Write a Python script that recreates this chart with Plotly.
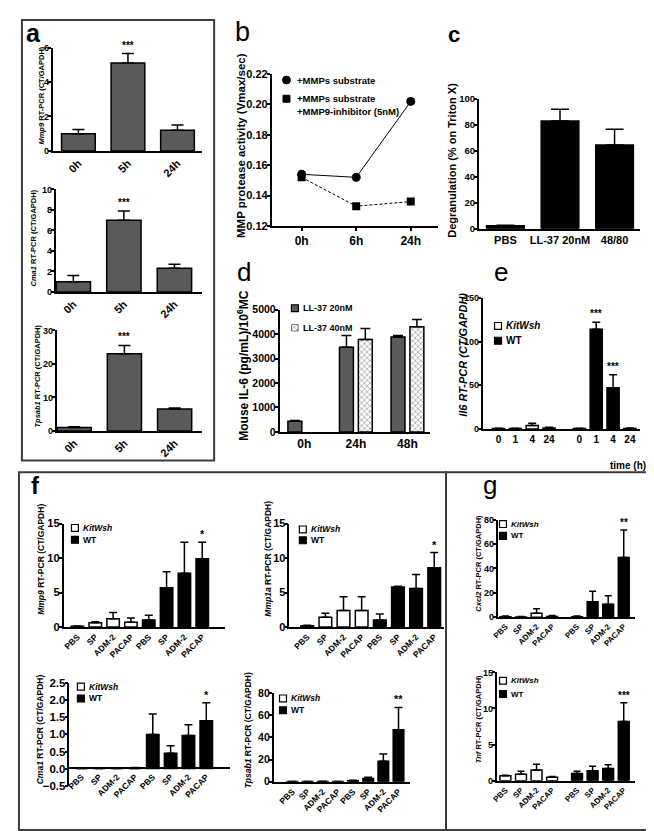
import plotly.graph_objects as go

W, H = 654, 831
FONT = "Liberation Sans"

# ================= data =================
a_times = ["0h", "5h", "24h"]
a_mmp9 = [1.0, 5.1, 1.2]
a_mmp9_err = [0.25, 0.55, 0.3]
a_mmp9_sig = ["", "***", ""]
a_cma1 = [1.0, 7.0, 2.3]
a_cma1_err = [0.6, 0.9, 0.4]
a_cma1_sig = ["", "***", ""]
a_tpsab1 = [1.0, 23.0, 6.5]
a_tpsab1_err = [0.2, 2.5, 0.3]
a_tpsab1_sig = ["", "***", ""]

b_times = ["0h", "6h", "24h"]
b_substrate = [0.154, 0.152, 0.202]
b_inhibitor = [0.152, 0.133, 0.136]

c_groups = ["PBS", "LL-37 20nM", "48/80"]
c_degran = [2.3, 83.0, 64.5]
c_degran_err = [0.5, 9.0, 12.0]

d_times = ["0h", "24h", "48h"]
d_ll37_20 = [430, 3460, 3880]
d_ll37_20_err = [40, 480, 60]
d_ll37_40 = [None, 3780, 4300]
d_ll37_40_err = [0, 450, 300]

e_times = ["0", "1", "4", "24"]
e_kitwsh = [0.5, 0.5, 4.0, 1.0]
e_kitwsh_err = [0.4, 0.4, 2.5, 1.0]
e_wt = [0.5, 114.0, 47.0, 0.6]
e_wt_err = [0.4, 8.0, 15.0, 0.4]
e_wt_sig = ["", "***", "***", ""]

stim = ["PBS", "SP", "ADM-2", "PACAP"]

f_mmp9_kit = [0.1, 0.6, 1.2, 0.7]
f_mmp9_kit_err = [0.05, 0.15, 0.9, 0.6]
f_mmp9_wt = [1.0, 5.7, 7.8, 9.9]
f_mmp9_wt_err = [0.7, 2.3, 4.5, 2.4]
f_mmp9_sig = ["", "", "", "*"]

f_mmp1a_kit = [0.2, 1.4, 2.4, 2.4]
f_mmp1a_kit_err = [0.05, 0.6, 2.0, 2.0]
f_mmp1a_wt = [1.0, 5.8, 5.6, 8.6]
f_mmp1a_wt_err = [0.9, 0.1, 2.0, 2.2]
f_mmp1a_sig = ["", "", "", "*"]

f_cma1_kit = [0.0, 0.0, 0.0, 0.0]
f_cma1_kit_err = [0.0, 0.0, 0.0, 0.03]
f_cma1_wt = [1.0, 0.45, 0.97, 1.4]
f_cma1_wt_err = [0.6, 0.22, 0.31, 0.53]
f_cma1_sig = ["", "", "", "*"]

f_tpsab1_kit = [0.2, 0.2, 0.3, 0.2]
f_tpsab1_kit_err = [0.1, 0.1, 0.2, 0.1]
f_tpsab1_wt = [0.8, 3.0, 18.5, 47.0]
f_tpsab1_wt_err = [0.5, 1.0, 6.5, 20.0]
f_tpsab1_sig = ["", "", "", "**"]

g_cxcl2_kit = [0.3, 0.2, 3.3, 0.5]
g_cxcl2_kit_err = [0.7, 0.3, 3.5, 0.8]
g_cxcl2_wt = [0.3, 12.7, 10.5, 49.0]
g_cxcl2_wt_err = [0.7, 8.5, 7.0, 22.5]
g_cxcl2_sig = ["", "", "", "**"]

g_tnf_kit = [0.7, 0.9, 1.5, 0.5]
g_tnf_kit_err = [0.05, 0.4, 0.8, 0.1]
g_tnf_wt = [1.0, 1.4, 1.7, 8.2]
g_tnf_wt_err = [0.3, 0.6, 0.5, 2.6]
g_tnf_sig = ["", "", "", "***"]

# ================= helpers =================
fig = go.Figure()
lay = dict(width=W, height=H, margin=dict(l=0, r=0, t=0, b=0), paper_bgcolor="white",
           plot_bgcolor="rgba(0,0,0,0)", barmode="overlay", showlegend=False,
           font=dict(family=FONT, color="black"))
annotations = []
shapes = []
n_ax = [0]


def fx(p):
    return p / W


def fy(p):
    return 1 - p / H


AX = dict(showline=True, linecolor="black", linewidth=1.5, ticklen=3,
          tickwidth=1.5, tickcolor="black", showgrid=False, zeroline=False, fixedrange=True)


def axes(xpx, ypx, xr, yr, xvals, xtext, yvals, xangle=0, xsize=10, ysize=10,
         yfmt=None, xline_y=None, xticks="", ystand=-3, visible=True):
    n_ax[0] += 1
    s = "" if n_ax[0] == 1 else str(n_ax[0])
    xa = dict(AX, domain=[fx(xpx[0]), fx(xpx[1])], range=xr, tickvals=xvals, ticktext=xtext,
              tickangle=xangle, ticks=xticks, visible=visible,
              tickfont=dict(family=FONT, size=xsize, weight="bold", color="black"),
              anchor="y" + s)
    if xline_y is not None:
        xa["anchor"] = "free"
        xa["position"] = fy(xline_y)
    ya = dict(AX, domain=[fy(ypx[1]), fy(ypx[0])], range=yr, tickvals=yvals, ticks="outside",
              ticklabelstandoff=ystand, visible=visible,
              tickfont=dict(family=FONT, size=ysize, weight="bold", color="black"),
              anchor="x" + s)
    if yfmt:
        ya["tickformat"] = yfmt
    lay["xaxis" + s] = xa
    lay["yaxis" + s] = ya
    return "x" + s, "y" + s


def bars(ax, x, y, err, fill, bw, cap, pattern=None, offset=None):
    marker = dict(color=fill, line=dict(color="black", width=1.5))
    if pattern:
        marker["pattern"] = pattern
    fig.add_trace(go.Bar(
        x=x, y=y, width=bw, offset=offset, marker=marker,
        error_y=dict(type="data", array=err, arrayminus=[0] * len(err), symmetric=False,
                     color="black", thickness=1.5, width=cap),
        xaxis=ax[0], yaxis=ax[1], hoverinfo="skip"))


def stars(ax, x, y, err, sig, size=10, shift=0):
    for xi, yi, ei, si in zip(x, y, err, sig):
        if si:
            annotations.append(dict(x=xi, y=(yi or 0) + ei, xref=ax[0], yref=ax[1],
                                    text="<b>" + si + "</b>", showarrow=False,
                                    yanchor="bottom", yshift=shift,
                                    font=dict(family=FONT, size=size, color="black")))


def text(t, xpx, ypx, size, angle=0, xanchor="center", yanchor="middle"):
    annotations.append(dict(x=fx(xpx), y=fy(ypx), xref="paper", yref="paper", text=t,
                            textangle=angle, showarrow=False, xanchor=xanchor, yanchor=yanchor,
                            font=dict(family=FONT, size=size, color="black")))


def legend_item(xpx, ypx, fill, label, size=8.5, sq=7):
    shapes.append(dict(type="rect", xref="paper", yref="paper", x0=fx(xpx), x1=fx(xpx + sq),
                       y0=fy(ypx + sq / 2), y1=fy(ypx - sq / 2), fillcolor=fill,
                       line=dict(color="black", width=1.2)))
    text(label, xpx + sq + 3, ypx, size, xanchor="left")


def kit_wt_legend(xpx, ypx, dy, size=8.5, sq=7):
    legend_item(xpx, ypx, "white", "<b><i>KitWsh</i></b>", size, sq)
    legend_item(xpx, ypx + dy, "black", "<b>WT</b>", size, sq)


def box(x0, y0, x1, y1):
    shapes.append(dict(type="rect", xref="paper", yref="paper", x0=fx(x0), x1=fx(x1),
                       y0=fy(y1), y1=fy(y0), line=dict(color="#3c3c3c", width=2)))


GRAY = "#5a5a5a"
CHECK = dict(shape="x", fgcolor="#444444", bgcolor="white", size=4, solidity=0.35)

# ================= panel a =================
pos = list(range(len(a_times)))
ax = axes([39, 190], [34, 139], [-0.52, 2.5], [0, 6], pos, a_times, [0, 2, 4, 6],
          xangle=-45, xsize=11, ysize=9)
bars(ax, pos, a_mmp9, a_mmp9_err, GRAY, 0.68, 6)
stars(ax, pos, a_mmp9, a_mmp9_err, a_mmp9_sig, 10, 1)
text("<b><i>Mmp9</i> RT-PCR (CT/GAPDH)</b>", 28, 83, 7.5, angle=-90)

ax = axes([42, 190], [178, 282], [-0.35, 2.55], [0, 10], pos, a_times, [0, 2, 4, 6, 8, 10],
          xangle=-45, xsize=11, ysize=9)
bars(ax, pos, a_cma1, a_cma1_err, GRAY, 0.68, 6)
stars(ax, pos, a_cma1, a_cma1_err, a_cma1_sig, 10, 1)
text("<b><i>Cma1</i> RT-PCR (CT/GAPDH)</b>", 20, 227, 7.5, angle=-90)

ax = axes([43, 190], [321, 423], [-0.35, 2.55], [0, 30], pos, a_times, [0, 10, 20, 30],
          xangle=-45, xsize=11, ysize=9)
bars(ax, pos, a_tpsab1, a_tpsab1_err, GRAY, 0.68, 6)
stars(ax, pos, a_tpsab1, a_tpsab1_err, a_tpsab1_sig, 10, 1)
text("<b><i>Tpsab1</i> RT-PCR (CT/GAPDH)</b>", 24, 367, 7.5, angle=-90)

box(8, 6, 202, 453)
text("<b>a</b>", 20, 19, 25)

# ================= panel b =================
bpos = list(range(len(b_times)))
ax = axes([260, 428], [61, 215], [-0.55, 2.5], [0.12, 0.22], bpos, b_times,
          [0.12, 0.14, 0.16, 0.18, 0.20, 0.22], xsize=12, ysize=11, yfmt=".2f",
          xticks="outside")
fig.add_trace(go.Scatter(x=bpos, y=b_substrate, mode="lines+markers",
                         line=dict(color="black", width=1),
                         marker=dict(symbol="circle", size=9, color="black"),
                         xaxis=ax[0], yaxis=ax[1], hoverinfo="skip"))
fig.add_trace(go.Scatter(x=bpos, y=b_inhibitor, mode="lines+markers",
                         line=dict(color="black", width=1, dash="3px,2px"),
                         marker=dict(symbol="square", size=8, color="black"),
                         xaxis=ax[0], yaxis=ax[1], hoverinfo="skip"))
shapes.append(dict(type="circle", xref="paper", yref="paper", x0=fx(271), x1=fx(279),
                   y0=fy(71), y1=fy(63), fillcolor="black", line=dict(color="black", width=1)))
shapes.append(dict(type="rect", xref="paper", yref="paper", x0=fx(271.5), x1=fx(278.5),
                   y0=fy(89.5), y1=fy(82.5), fillcolor="black", line=dict(color="black", width=1)))
text("<b>+MMPs substrate</b>", 284, 67, 9.5, xanchor="left")
text("<b>+MMPs substrate</b>", 284, 86, 9.5, xanchor="left")
text("<b>+MMP9-inhibitor (5nM)</b>", 284, 99, 9.5, xanchor="left")
text("<b>MMP protease activity (Vmax/sec)</b>", 229, 133, 11.5, angle=-90)
text("b", 231, 18, 27)

# ================= panel c =================
cpos = list(range(len(c_groups)))
ax = axes([469, 632], [86, 218], [-0.49, 2.47], [0, 100], cpos, c_groups,
          [0, 20, 40, 60, 80, 100], xsize=11, ysize=9.5)
bars(ax, cpos, c_degran, c_degran_err, "black", 0.69, 9)
text("<b>Degranulation (% on Triton X)</b>", 442, 148, 11, angle=-90)
text("<b>c</b>", 444, 21, 22)

# ================= panel d =================
dpos = list(range(len(d_times)))
ax = axes([268, 420], [300, 424], [-0.48, 2.44], [0, 5000], dpos, d_times,
          [0, 1000, 2000, 3000, 4000, 5000], xsize=12, ysize=10.5)
bars(ax, dpos, d_ll37_20, d_ll37_20_err, GRAY, 0.27, 5, offset=-0.318)
bars(ax, dpos, d_ll37_40, d_ll37_40_err, "white", 0.27, 5, offset=0.048, pattern=CHECK)
legend_item(280, 298.5, GRAY, "<b>LL-37 20nM</b>", 9, 7)
# patterned legend key drawn as a tiny bar on its own hidden axes
sw = axes([280, 287], [315, 322], [-0.5, 0.5], [0, 1], [], [], [], visible=False)
fig.add_trace(go.Bar(x=[0], y=[1], width=1,
                     marker=dict(color="white", pattern=CHECK, line=dict(color="black", width=1.2)),
                     xaxis=sw[0], yaxis=sw[1], hoverinfo="skip"))
text("<b>LL-37 40nM</b>", 290, 318.5, 9, xanchor="left")
text("<b>Mouse IL-6 (pg/mL)/10<sup>6</sup>MC</b>", 231, 357, 12, angle=-90)
text("d", 232, 262, 26)

# ================= panel e =================
e_kit_pos = [i for i in range(len(e_times))]
e_wt_pos = [i + 4.8 for i in range(len(e_times))]
ax = axes([473, 632], [288, 421], [-0.94, 8.41], [0, 150], e_kit_pos + e_wt_pos, e_times * 2,
          [0, 50, 100, 150], xsize=10, ysize=9)
bars(ax, e_kit_pos, e_kitwsh, e_kitwsh_err, "white", 0.72, 4)
bars(ax, e_wt_pos, e_wt, e_wt_err, "black", 0.72, 4)
stars(ax, e_wt_pos, e_wt, e_wt_err, e_wt_sig, 10, 1)
kit_wt_legend(485, 316.5, 15, 10, 7)
text("<b><i>Il6 RT-PCR (CT/GAPDH)</i></b>", 453, 346, 11, angle=-90)
text("<b>time (h)</b>", 620, 458, 10)
text("e", 492, 262, 26)

# ================= panel f =================
f_kit_pos = [i for i in range(len(stim))]
f_wt_pos = [i + 4 for i in range(len(stim))]
fx_all = f_kit_pos + f_wt_pos

ax = axes([50, 213], [517, 622], [-0.78, 8.28], [0, 15], fx_all, stim * 2, [0, 5, 10, 15],
          xangle=-45, xsize=8.5, ysize=11)
bars(ax, f_kit_pos, f_mmp9_kit, f_mmp9_kit_err, "white", 0.7, 4)
bars(ax, f_wt_pos, f_mmp9_wt, f_mmp9_wt_err, "black", 0.7, 4)
stars(ax, f_wt_pos, f_mmp9_wt, f_mmp9_wt_err, f_mmp9_sig, 11, 0)
kit_wt_legend(58, 521.5, 12)
text("<b><i>Mmp9</i> RT-PCR (CT/GAPDH)</b>", 27, 553, 8.5, angle=-90)

ax = axes([278, 434], [517, 622], [-0.98, 7.54], [0, 15], fx_all, stim * 2, [0, 5, 10, 15],
          xangle=-45, xsize=8.5, ysize=11)
bars(ax, f_kit_pos, f_mmp1a_kit, f_mmp1a_kit_err, "white", 0.7, 4)
bars(ax, f_wt_pos, f_mmp1a_wt, f_mmp1a_wt_err, "black", 0.7, 4)
stars(ax, f_wt_pos, f_mmp1a_wt, f_mmp1a_wt_err, f_mmp1a_sig, 11, 0)
kit_wt_legend(288, 523, 11)
text("<b><i>Mmp1a</i> RT-PCR (CT/GAPDH)</b>", 256, 553, 8.5, angle=-90)

ax = axes([56, 218], [679, 783], [-0.67, 8.33], [-0.5, 2.5], fx_all, stim * 2,
          [-0.5, 0, 0.5, 1.0, 1.5, 2.0, 2.5], xangle=-45, xsize=8.5, ysize=11.5, yfmt=".1f",
          xline_y=765)
bars(ax, f_kit_pos, f_cma1_kit, f_cma1_kit_err, "white", 0.7, 4)
bars(ax, f_wt_pos, f_cma1_wt, f_cma1_wt_err, "black", 0.7, 4)
stars(ax, f_wt_pos, f_cma1_wt, f_cma1_wt_err, f_cma1_sig, 11, 0)
kit_wt_legend(64, 682.5, 12)
text("<b><i>Cma1</i> RT-PCR (CT/GAPDH)</b>", 26, 726, 8.5, angle=-90)

ax = axes([262, 400], [689, 779], [-1.24, 7.78], [0, 80], fx_all, stim * 2,
          [0, 20, 40, 60, 80], xangle=-45, xsize=8.5, ysize=10.5)
bars(ax, f_kit_pos, f_tpsab1_kit, f_tpsab1_kit_err, "white", 0.7, 4)
bars(ax, f_wt_pos, f_tpsab1_wt, f_tpsab1_wt_err, "black", 0.7, 4)
stars(ax, f_wt_pos, f_tpsab1_wt, f_tpsab1_wt_err, f_tpsab1_sig, 11, 0)
kit_wt_legend(268, 694.5, 12)
text("<b><i>Tpsab1</i> RT-PCR (CT/GAPDH)</b>", 236, 727, 8.5, angle=-90)

box(5, 465, 436, 828)
text("<b>f</b>", 22, 478, 24)

# ================= panel g =================
g_kit_pos = [i for i in range(len(stim))]
g_wt_pos = [i + 4.6 for i in range(len(stim))]
gx_all = g_kit_pos + g_wt_pos

ax = axes([488, 627], [513, 612], [-0.51, 8.34], [0, 80], gx_all, stim * 2,
          [0, 20, 40, 60, 80], xangle=-45, xsize=8, ysize=9)
bars(ax, g_kit_pos, g_cxcl2_kit, g_cxcl2_kit_err, "white", 0.7, 3.5)
bars(ax, g_wt_pos, g_cxcl2_wt, g_cxcl2_wt_err, "black", 0.7, 3.5)
stars(ax, g_wt_pos, g_cxcl2_wt, g_cxcl2_wt_err, g_cxcl2_sig, 10, 0)
kit_wt_legend(490, 517.5, 12, 8)
text("<b><i>Cxcl2</i> RT-PCR (CT/GAPDH)</b>", 469, 557, 7.5, angle=-90)

ax = axes([487, 627], [668, 778], [-0.57, 8.34], [0, 15], gx_all, stim * 2,
          [0, 5, 10, 15], xangle=-45, xsize=8, ysize=9)
bars(ax, g_kit_pos, g_tnf_kit, g_tnf_kit_err, "white", 0.7, 3.5)
bars(ax, g_wt_pos, g_tnf_wt, g_tnf_wt_err, "black", 0.7, 3.5)
stars(ax, g_wt_pos, g_tnf_wt, g_tnf_wt_err, g_tnf_sig, 10, 0)
kit_wt_legend(490, 676.5, 13.5, 8)
text("<b><i>Tnf</i> RT-PCR (CT/GAPDH)</b>", 469, 716, 7.5, angle=-90)

box(436, 465, 652, 828)
text("g", 480, 478, 26)

lay["annotations"] = annotations
lay["shapes"] = shapes
fig.update_layout(**lay)
fig.write_html("out.html")
